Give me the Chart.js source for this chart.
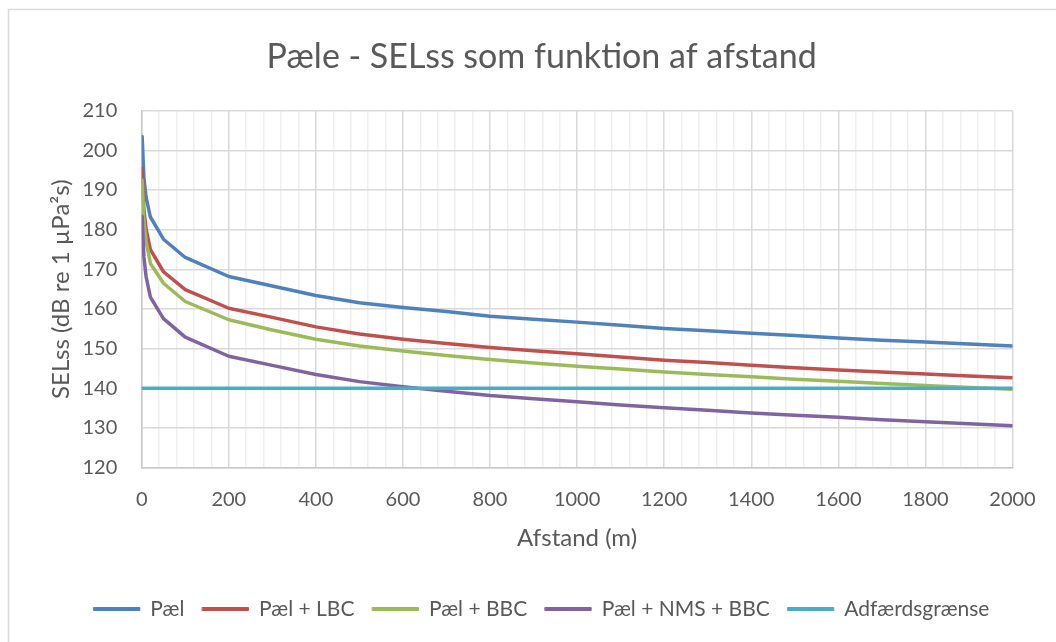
<!DOCTYPE html>
<html>
<head>
<meta charset="utf-8">
<title>Pæle - SELss som funktion af afstand</title>
<script src="https://cdn.jsdelivr.net/npm/chart.js@4.4.0/dist/chart.umd.min.js"></script>
<style>
  html, body { margin: 0; padding: 0; background: #ffffff; }
</style>
</head>
<body>
<canvas id="SELss" width="1056" height="642"></canvas>
<script>
// afstand i meter og SELss i dB re 1 µPa²s
var Afstand = [1, 5, 10, 20, 50, 100, 200, 300, 400, 500, 600, 700, 800, 900, 1000,
               1100, 1200, 1300, 1400, 1500, 1600, 1700, 1800, 1900, 2000];
var Pael = [203.5, 193.2, 188.2, 183.2, 177.6, 173.0, 168.2, 165.8, 163.4, 161.6, 160.4, 159.4, 158.2, 157.4, 156.7,
            155.9, 155.1, 154.5, 153.9, 153.3, 152.7, 152.1, 151.7, 151.2, 150.7];
var PaelLBC = [195.5, 185.2, 180.2, 175.0, 169.4, 164.9, 160.2, 157.9, 155.5, 153.7, 152.4, 151.3, 150.3, 149.5, 148.7,
               147.9, 147.1, 146.5, 145.8, 145.2, 144.6, 144.1, 143.6, 143.1, 142.7];
var PaelBBC = [192.5, 182.2, 177.2, 171.5, 166.5, 161.9, 157.3, 154.7, 152.4, 150.7, 149.4, 148.3, 147.3, 146.4, 145.6,
               144.9, 144.1, 143.5, 142.9, 142.3, 141.8, 141.2, 140.7, 140.2, 139.8];
var PaelNMSBBC = [183.4, 173.2, 168.2, 163.0, 157.6, 152.9, 148.1, 145.8, 143.5, 141.7, 140.4, 139.3, 138.2, 137.4, 136.6,
                  135.8, 135.1, 134.5, 133.8, 133.2, 132.7, 132.1, 131.6, 131.1, 130.6];
var GraenseX = [0, 2000];
var Graense = [140, 140];

var Serier = ["Pæl", "Pæl + LBC", "Pæl + BBC", "Pæl + NMS + BBC", "Adfærdsgrænse"];
var Farver = ["#4F81BD", "#C0504D", "#9BBB59", "#8064A2", "#4BACC6"];

var XMin = 0, XMax = 2000, XStep = 40, XLabelStep = 200;
var YMin = 120, YMax = 210, YStep = 10;

function punkter(xs, ys) {
  return xs.map(function (x, i) { return { x: x, y: ys[i] }; });
}

var Kurver = [
  punkter(Afstand, Pael),
  punkter(Afstand, PaelLBC),
  punkter(Afstand, PaelBBC),
  punkter(Afstand, PaelNMSBBC),
  punkter(GraenseX, Graense)
];

var tekst = "#595959";
var skrift = "Lato";

// tynd ramme rundt om diagrammet
var ramme = {
  id: "ramme",
  beforeDraw: function (chart) {
    var c = chart.ctx;
    c.save();
    c.fillStyle = "#ffffff";
    c.fillRect(0, 0, chart.width, chart.height);
    c.strokeStyle = "#d9d9d9";
    c.lineWidth = 1.5;
    c.strokeRect(8.5, 9.5, chart.width + 20, chart.height + 20);
    c.restore();
  }
};

var SEL = document.getElementById("SELss").getContext("2d");
var SELChart = new Chart(SEL, {
  type: "line",
  data: {
    datasets: Kurver.map(function (d, i) {
      return {
        label: Serier[i],
        data: d,
        borderColor: Farver[i],
        backgroundColor: Farver[i],
        borderWidth: 3.5,
        pointRadius: 0,
        tension: 0,
        fill: false,
        borderCapStyle: "round",
        borderJoinStyle: "round",
        order: Kurver.length - i
      };
    })
  },
  options: {
    responsive: false,
    devicePixelRatio: 1,
    animation: false,
    layout: { padding: { left: 70, right: 42.7, top: 10, bottom: 12.5 } },
    plugins: {
      tooltip: { enabled: false },
      title: {
        display: true,
        text: "Pæle - SELss som funktion af afstand",
        color: tekst,
        font: { family: skrift, size: 34, weight: "normal", lineHeight: 1.2 },
        padding: { top: 26.6, bottom: 33.3 }
      },
      legend: {
        position: "bottom",
        labels: {
          color: tekst,
          font: { family: skrift, size: 21 },
          boxWidth: 46,
          boxHeight: 3,
          padding: 18,
          sort: function (a, b) { return a.datasetIndex - b.datasetIndex; },
          generateLabels: function (chart) {
            var items = Chart.defaults.plugins.legend.labels.generateLabels(chart);
            items.forEach(function (it) { it.lineWidth = 1; });
            return items;
          }
        }
      }
    },
    scales: {
      x: {
        type: "linear",
        min: XMin,
        max: XMax,
        afterFit: function (s) { s.height = 112.8; },
        ticks: {
          stepSize: XStep,
          autoSkip: false,
          maxRotation: 0,
          padding: 20.3,
          color: tekst,
          font: { family: skrift, size: 20 },
          callback: function (v) { return v % XLabelStep === 0 ? v : ""; }
        },
        grid: {
          drawTicks: false,
          lineWidth: 1.5,
          color: function (c) {
            return c.tick && c.tick.value % XLabelStep === 0 ? "#d9d9d9" : "#efefef";
          }
        },
        border: { color: "#c8c8c8", width: 1.5 },
        title: {
          display: true,
          text: "Afstand (m)",
          color: tekst,
          font: { family: skrift, size: 24, lineHeight: 1.2 },
          padding: { top: 0, bottom: 28.1 }
        }
      },
      y: {
        min: YMin,
        max: YMax,
        afterFit: function (s) { s.width = 71.7; },
        ticks: {
          stepSize: YStep,
          padding: 24.4,
          color: tekst,
          font: { family: skrift, size: 20 }
        },
        grid: { drawTicks: false, lineWidth: 1.5, color: "#d9d9d9" },
        border: { color: "#c8c8c8", width: 1.5 },
        title: {
          display: true,
          text: "SELss (dB re 1 µPa²s)",
          color: tekst,
          font: { family: skrift, size: 24, lineHeight: 1.2 },
          padding: { top: -23.4, bottom: 0 }
        }
      }
    }
  },
  plugins: [ramme]
});
</script>
</body>
</html>
